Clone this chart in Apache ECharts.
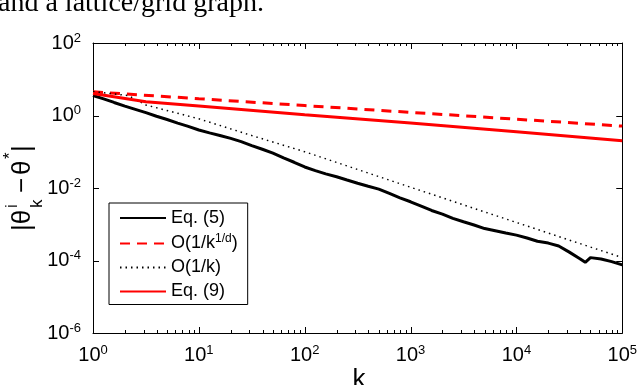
<!DOCTYPE html>
<html>
<head>
<meta charset="utf-8">
<script src="https://cdn.jsdelivr.net/npm/echarts@6/dist/echarts.min.js"></script>
<style>
  html, body { margin: 0; padding: 0; background: #fff; }
  #chart { width: 640px; height: 385px; }
</style>
</head>
<body>
<div id="chart"></div>
<script>
// values
const seriesNames = ['Eq. (5)', 'O(1/k1/d)', 'O(1/k)', 'Eq. (9)']

const kEq5 = [1, 1.26, 1.58, 2, 2.51, 3.16, 3.98, 5.01, 6.31, 7.94,
  10, 12.6, 15.8, 20, 25.1, 31.6, 39.8, 50.1, 63.1, 79.4,
  100, 126, 158, 200, 251, 316, 398, 501, 631, 794,
  1000, 1260, 1580, 2000, 2510, 3160, 3980, 5010, 6310, 7940,
  10000, 12600, 15800, 20000, 25100, 31600, 39800, 44700, 50100, 63100, 79400, 100000]
const eq5 = [3.55, 2.88, 2.29, 1.82, 1.48, 1.2, 0.955, 0.776, 0.617, 0.501,
  0.398, 0.331, 0.282, 0.234, 0.191, 0.148, 0.117, 0.0912, 0.0676, 0.0513,
  0.038, 0.0302, 0.0245, 0.0204, 0.0166, 0.0135, 0.0112, 0.00933, 0.00708, 0.00537,
  0.00417, 0.00316, 0.0024, 0.00191, 0.00145, 0.00117, 0.000955, 0.000759, 0.000661, 0.000575,
  0.000501, 0.000417, 0.000339, 0.000302, 0.000251, 0.00017, 0.000112, 0.0000891, 0.00012, 0.00011, 0.0000933, 0.0000759]

const kRateD = [1, 10, 100, 1000, 10000, 100000]
const rateD = [4.5, 2.9, 1.88, 1.22, 0.79, 0.51]

const kRate1 = [1, 2.15, 3.16, 10, 31.6, 100, 1000, 10000, 100000]
const rate1 = [4.57, 3.55, 1.95, 0.81, 0.28, 0.1, 0.0105, 0.00112, 0.00012]

const kEq9 = [1, 3.16, 10, 100, 1000, 10000, 100000]
const eq9 = [4.07, 2.4, 1.82, 1.05, 0.62, 0.355, 0.2]

// axis ranges and tick values
const xRange = [1, 1e5]
const yRange = [1e-6, 1e2]
const xMajorTicks = [1, 10, 100, 1000, 10000, 100000]
const yMajorTicks = [1e-6, 1e-4, 1e-2, 1, 1e2]
const xMinorTicks = []
xMajorTicks.slice(0, -1).forEach(d => {
  for (let m = 2; m <= 9; m++) xMinorTicks.push(d * m)
})

const font = "'Liberation Sans', Arial, sans-serif"
const pairs = (ks, vs) => ks.map((k, i) => [k, vs[i]])

const powLabel = v => '{b|10}{s|' + Math.round(Math.log10(v)) + '}'
const powRich = {
  b: {fontSize: 20, lineHeight: 26, fontFamily: font, color: '#000'},
  s: {fontSize: 13, padding: [0, 0, 10, 0], fontFamily: font, color: '#000'}
}

const xBase = {
  type: 'log', min: xRange[0], max: xRange[1],
  axisLine: {show: true, lineStyle: {color: '#000', width: 1}},
  axisTick: {show: false},
  splitLine: {show: false}
}
const yBase = {
  type: 'log', min: yRange[0], max: yRange[1], interval: 2,
  axisLine: {show: true, lineStyle: {color: '#000', width: 1}},
  axisTick: {show: false},
  splitLine: {show: false}
}

// inward ticks on all four sides (axisTick does not render here)
const tickData = []
xMajorTicks.forEach(v => tickData.push([v, 1, 6]))
xMinorTicks.forEach(v => tickData.push([v, 1, 3]))
yMajorTicks.forEach(v => tickData.push([1, v, -6]))

function renderTick(params, api) {
  const len = api.value(2)
  const crisp = n => Math.round(n) + 0.5
  const style = {stroke: '#000', lineWidth: 1}
  if (len > 0) {
    const b = api.coord([api.value(0), yRange[0]])
    const t = api.coord([api.value(0), yRange[1]])
    const x = crisp(b[0])
    return {type: 'group', children: [
      {type: 'line', shape: {x1: x, y1: b[1], x2: x, y2: b[1] - len}, style: style},
      {type: 'line', shape: {x1: x, y1: t[1], x2: x, y2: t[1] + len}, style: style}
    ]}
  }
  const l = api.coord([xRange[0], api.value(1)])
  const r = api.coord([xRange[1], api.value(1)])
  const y = crisp(l[1])
  return {type: 'group', children: [
    {type: 'line', shape: {x1: l[0], y1: y, x2: l[0] - len, y2: y}, style: style},
    {type: 'line', shape: {x1: r[0], y1: y, x2: r[0] + len, y2: y}, style: style}
  ]}
}

let myChart = echarts.init(document.getElementById('chart'))

let option = {
  animation: false,
  backgroundColor: '#fff',
  grid: {left: 93, right: 14, top: 43, bottom: 52},
  xAxis: [
    Object.assign({}, xBase, {position: 'bottom',
      axisLabel: {margin: 9, formatter: powLabel, rich: powRich}}),
    Object.assign({}, xBase, {position: 'top', axisLabel: {show: false}})
  ],
  yAxis: [
    Object.assign({}, yBase, {position: 'left',
      axisLabel: {margin: 12, formatter: powLabel, rich: powRich}}),
    Object.assign({}, yBase, {position: 'right', axisLabel: {show: false}})
  ],
  legend: {
    orient: 'vertical', left: 109, top: 203,
    data: seriesNames,
    selectedMode: false,
    backgroundColor: '#fff', borderColor: '#000', borderWidth: 1,
    padding: [6, 10, 4, 10],
    itemWidth: 46, itemHeight: 14, itemGap: 6,
    itemStyle: {opacity: 0},
    formatter: name => name === 'O(1/k1/d)' ? '{t|O(1/k}{s|1/d}{t|)}' : '{t|' + name + '}',
    textStyle: {
      color: '#000', fontSize: 18, fontFamily: font,
      rich: {
        t: {fontSize: 18, lineHeight: 20, fontFamily: font, color: '#000'},
        s: {fontSize: 12, padding: [0, 0, 9, 0], fontFamily: font, color: '#000'}
      }
    }
  },
  series: [
    {name: seriesNames[0], type: 'line', symbol: 'none', data: pairs(kEq5, eq5),
      lineStyle: {color: '#000', width: 3}, itemStyle: {color: '#000'}},
    {name: seriesNames[1], type: 'line', symbol: 'none', data: pairs(kRateD, rateD),
      lineStyle: {color: '#ff0000', width: 3, type: [10, 7]}, itemStyle: {color: '#ff0000'}},
    {name: seriesNames[2], type: 'line', symbol: 'none', data: pairs(kRate1, rate1),
      lineStyle: {color: '#000', width: 1.5, type: [1.5, 4]}, itemStyle: {color: '#000'}},
    {name: seriesNames[3], type: 'line', symbol: 'none', data: pairs(kEq9, eq9),
      lineStyle: {color: '#ff0000', width: 3}, itemStyle: {color: '#ff0000'}},
    {name: 'ticks', type: 'custom', data: tickData, renderItem: renderTick,
      encode: {x: 0, y: 1}, clip: false, silent: true, z: 5}
  ],
  graphic: [
    // caption fragment cut off at top of the figure
    {type: 'text', left: -2, top: -10, silent: true,
      style: {text: 'and a lattice/grid graph.', fontSize: 28, fontFamily: "'Liberation Serif', 'Times New Roman', serif", fill: '#000'}},
    {type: 'text', x: 359, y: 380, silent: true,
      style: {text: 'k', fontSize: 26, fontFamily: font, fill: '#000', align: 'center', verticalAlign: 'middle'}},
    {
      type: 'group', x: 32, y: 230, rotation: Math.PI / 2, silent: true,
      children: [
        {type: 'text', x: -1, y: -9, style: {text: '|θ', fontSize: 26, fontFamily: font, fill: '#000', verticalAlign: 'middle'}},
        {type: 'text', x: 22, y: -20, style: {text: 'i', fontSize: 17, fontFamily: font, fill: '#000', verticalAlign: 'middle'}},
        {type: 'text', x: 22, y: 5, style: {text: 'k', fontSize: 17, fontFamily: font, fill: '#000', verticalAlign: 'middle'}},
        {type: 'text', x: 37, y: -9, style: {text: '−', fontSize: 26, fontFamily: font, fill: '#000', verticalAlign: 'middle'}},
        {type: 'text', x: 55, y: -9, style: {text: 'θ', fontSize: 26, fontFamily: font, fill: '#000', verticalAlign: 'middle'}},
        {type: 'text', x: 71, y: -22, style: {text: '*', fontSize: 17, fontFamily: font, fill: '#000', verticalAlign: 'middle'}},
        {type: 'text', x: 78, y: -9, style: {text: '|', fontSize: 26, fontFamily: font, fill: '#000', verticalAlign: 'middle'}}
      ]
    }
  ]
}
myChart.setOption(option)
</script>
</body>
</html>
